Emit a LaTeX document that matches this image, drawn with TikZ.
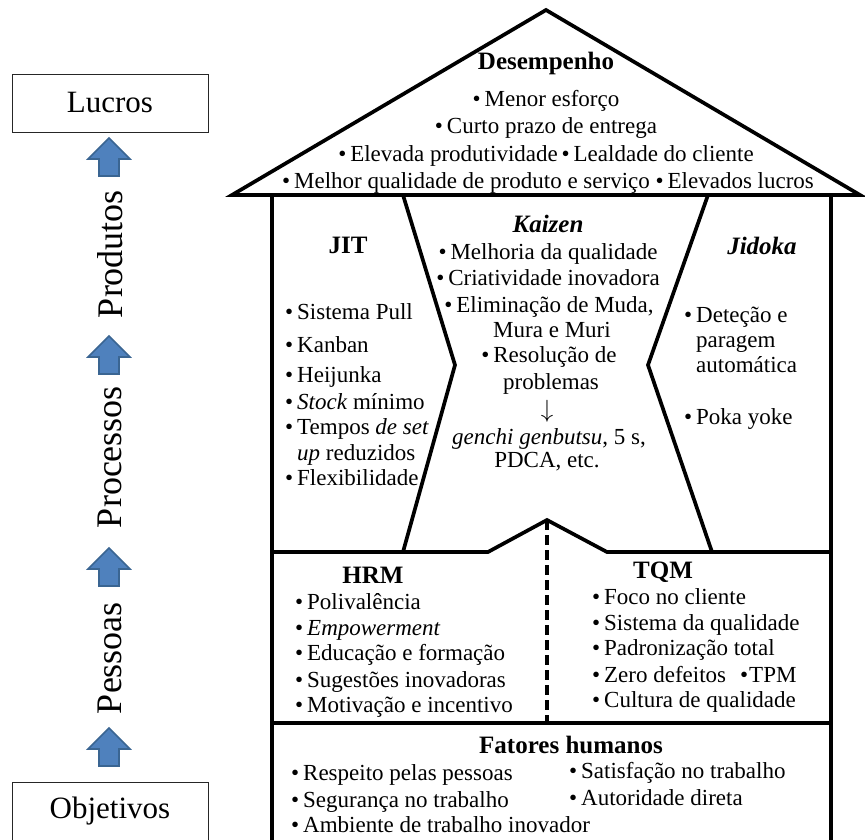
\documentclass[tikz,border=0pt]{standalone}
\usepackage{fontspec}
\setmainfont{Liberation Serif}
\definecolor{arrowblue}{HTML}{4F81BD}
\definecolor{arrowedge}{HTML}{3A6592}
\newcommand\bu{\makebox[12pt][l]{\textbullet}}
\tikzset{
  house/.style={line width=3.7pt, line join=miter},
  txt/.style={font=\fontsize{23}{27}\selectfont, inner sep=0pt},
  hd/.style={font=\fontsize{25}{29}\selectfont\bfseries, inner sep=0pt},
  hdit/.style={font=\fontsize{25}{29}\selectfont\bfseries\itshape, inner sep=0pt},
  side/.style={font=\fontsize{36}{40}\selectfont, inner sep=0pt, rotate=90},
  endbox/.style={draw=black!85, line width=0.9pt, minimum width=196pt,
    minimum height=58pt, inner sep=0pt, font=\fontsize{31}{35}\selectfont},
  barrow/.style={fill=arrowblue, draw=arrowedge, line width=1.6pt, line join=miter}
}
% block arrow pointing up, tip at (109,#1)
\newcommand\uparrowblock[1]{%
  \draw[barrow] (109,#1) -- ++(21,21) -- ++(-11,0) -- ++(0,17) -- ++(-20,0)
    -- ++(0,-17) -- ++(-11,0) -- cycle;}
\begin{document}
\begin{tikzpicture}[x=1pt,y=-1pt]
\useasboundingbox (0,0) rectangle (865,840);

% ---- left column: from objectives to profits ----
\node[endbox] (lucros) at (110,103) {Lucros};
\node[endbox] (objetivos) at (110,811) {Objetivos};
\node[side] (produtos) at (110,254) {Produtos};
\node[side] (processos) at (110,457) {Processos};
\node[side] (pessoas) at (110,658) {Pessoas};
\uparrowblock{138}
\uparrowblock{336}
\uparrowblock{548}
\uparrowblock{728}

% ---- house outline ----
\coordinate (apex) at (546,10);
\coordinate (eaveL) at (232,195);
\coordinate (eaveR) at (860,195);
\draw[house] (eaveL) -- (apex) -- (eaveR) -- cycle;
\draw[house] (272,195) -- (272,842);
\draw[house] (831,195) -- (831,842);
% pillars between JIT, Kaizen and Jidoka
\draw[house] (403,195) -- (455,365) -- (403,552);
\draw[house] (708,195) -- (648,365) -- (712,552);
% floor with small gable over the dashed divider
\coordinate (gable) at (547,520);
\draw[house] (272,552) -- (488,552) -- (gable) -- (607,552) -- (831,552);
\draw[line width=3.4pt, dash pattern=on 10pt off 5pt] (gable) -- (547,723);
\draw[house] (272,723) -- (831,723);

% ---- roof: performance ----
\node[hd, anchor=base] (desempenho) at (546,70) {Desempenho};
\node[txt, anchor=base] (r1) at (546,107) {\bu Menor esforço};
\node[txt, anchor=base] (r2) at (546,134) {\bu Curto prazo de entrega};
\node[txt, anchor=base] (r3) at (546,162) {\bu Elevada produtividade\,\bu Lealdade do cliente};
\node[txt, anchor=base] (r4) at (548,189) {\bu Melhor qualidade de produto e serviço \bu Elevados lucros};

% ---- JIT ----
\node[hd, anchor=base] (jit) at (348,253) {JIT};
\node[txt, anchor=base west] (j1) at (285,319) {\bu Sistema Pull};
\node[txt, anchor=base west] (j2) at (285,352) {\bu Kanban};
\node[txt, anchor=base west] (j3) at (285,382) {\bu Heijunka};
\node[txt, anchor=base west] (j4) at (285,409) {\bu \textit{Stock} mínimo};
\node[txt, anchor=base west] (j5) at (285,434) {\bu Tempos \textit{de set}};
\node[txt, anchor=base west] (j6) at (297,460) {\textit{up} reduzidos};
\node[txt, anchor=base west] (j7) at (285,485) {\bu Flexibilidade};

% ---- Kaizen ----
\node[hdit, anchor=base] (kaizen) at (548,232) {Kaizen};
\node[txt, anchor=base] (k1) at (548,259) {\bu Melhoria da qualidade};
\node[txt, anchor=base] (k2) at (548,285) {\bu Criatividade inovadora};
\node[txt, anchor=base] (k3) at (549,312) {\bu Eliminação de Muda,};
\node[txt, anchor=base] (k4) at (552,337) {Mura e Muri};
\node[txt, anchor=base] (k5) at (549,362) {\bu Resolução de};
\node[txt, anchor=base] (k6) at (551,389) {problemas};
\node[anchor=center, inner sep=0pt, font=\fontsize{27}{30}\selectfont] (k7) at (547,411) {$\downarrow$};
\node[txt, anchor=base] (k8) at (549,444) {\textit{genchi genbutsu}, 5 s,};
\node[txt, anchor=base] (k9) at (547,467) {PDCA, etc.};

% ---- Jidoka ----
\node[hdit, anchor=base] (jidoka) at (762,254) {Jidoka};
\node[txt, anchor=base west] (d1) at (684,322) {\bu Deteção e};
\node[txt, anchor=base west] (d2) at (696,347) {paragem};
\node[txt, anchor=base west] (d3) at (696,372) {automática};
\node[txt, anchor=base west] (d4) at (684,424) {\bu Poka yoke};

% ---- HRM ----
\node[hd, anchor=base] (hrm) at (373,583) {HRM};
\node[txt, anchor=base west] (h1) at (295,609) {\bu Polivalência};
\node[txt, anchor=base west] (h2) at (295,635) {\bu \textit{Empowerment}};
\node[txt, anchor=base west] (h3) at (295,660) {\bu Educação e formação};
\node[txt, anchor=base west] (h4) at (295,687) {\bu Sugestões inovadoras};
\node[txt, anchor=base west] (h5) at (295,712) {\bu Motivação e incentivo};

% ---- TQM ----
\node[hd, anchor=base] (tqm) at (663,578) {TQM};
\node[txt, anchor=base west] (t1) at (592,604) {\bu Foco no cliente};
\node[txt, anchor=base west] (t2) at (592,630) {\bu Sistema da qualidade};
\node[txt, anchor=base west] (t3) at (592,655) {\bu Padronização total};
\node[txt, anchor=base west] (t4) at (592,682) {\bu Zero defeitos};
\node[txt, anchor=base west] (t5) at (740,682) {\textbullet\kern1pt TPM};
\node[txt, anchor=base west] (t6) at (592,707) {\bu Cultura de qualidade};

% ---- human factors ----
\node[hd, anchor=base] (fatores) at (571,753) {Fatores humanos};
\node[txt, anchor=base west] (f1) at (291,780) {\bu Respeito pelas pessoas};
\node[txt, anchor=base west] (f2) at (569,778) {\bu Satisfação no trabalho};
\node[txt, anchor=base west] (f3) at (291,807) {\bu Segurança no trabalho};
\node[txt, anchor=base west] (f4) at (569,805) {\bu Autoridade direta};
\node[txt, anchor=base west] (f5) at (291,832) {\bu Ambiente de trabalho inovador};
\end{tikzpicture}
\end{document}
